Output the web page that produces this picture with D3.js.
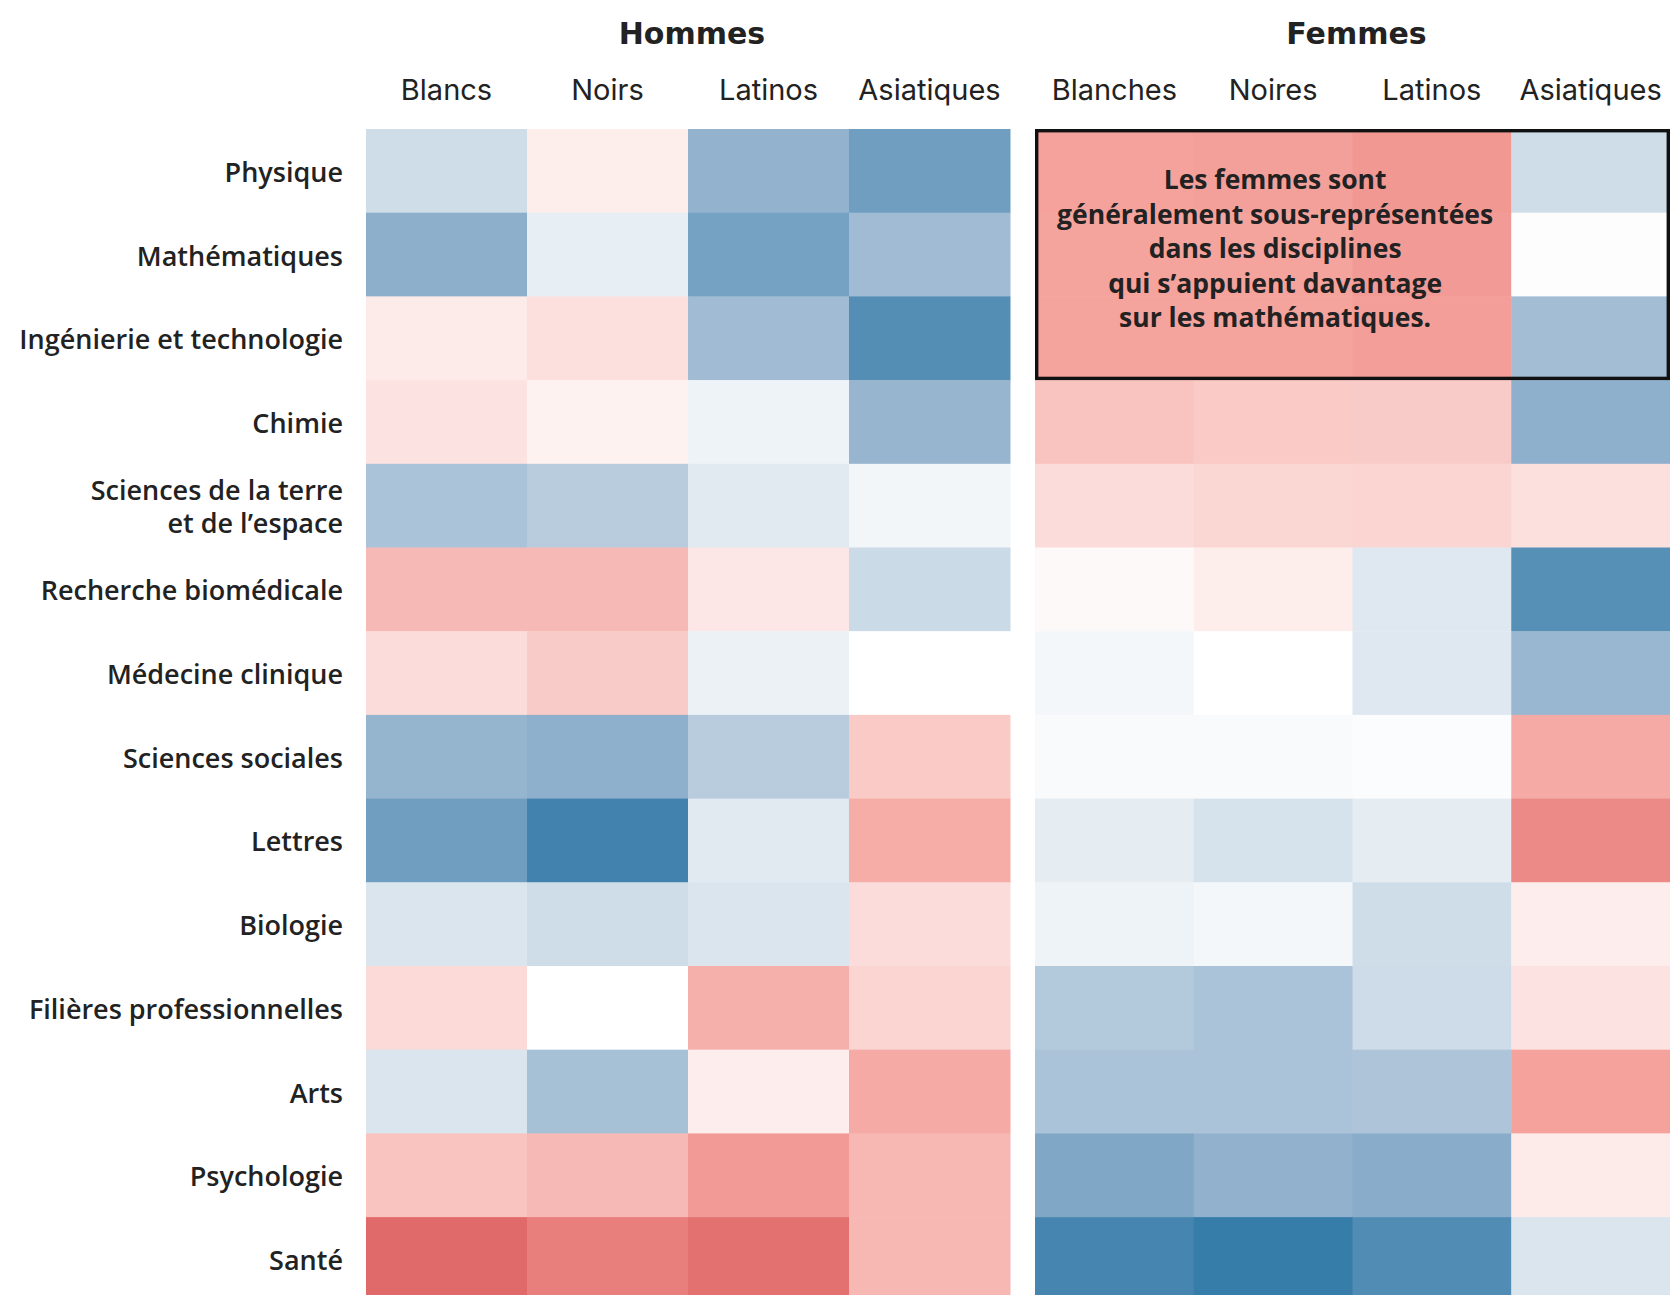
<!DOCTYPE html>
<html>
<head>
<meta charset="utf-8">
<script src="https://cdn.jsdelivr.net/npm/d3@7"></script>
<style>
  body { margin: 0; background: #fff; }
  svg { display: block; }
  .row-label { font-family: "Open Sans", sans-serif; font-weight: 600; font-size: 27px; fill: #222; }
  .col-label { font-family: Inter, sans-serif; font-weight: 400; font-size: 29px; fill: #222; }
  .group-title { font-family: "DejaVu Sans", sans-serif; font-weight: 700; font-size: 30px; fill: #222; }
  .note { font-family: "Open Sans", sans-serif; font-weight: 700; font-size: 26.5px; fill: #222; }
</style>
</head>
<body>
<svg width="1670" height="1295"></svg>
<script>
var disciplines = [
  ["Physique"],
  ["Mathématiques"],
  ["Ingénierie et technologie"],
  ["Chimie"],
  ["Sciences de la terre", "et de l’espace"],
  ["Recherche biomédicale"],
  ["Médecine clinique"],
  ["Sciences sociales"],
  ["Lettres"],
  ["Biologie"],
  ["Filières professionnelles"],
  ["Arts"],
  ["Psychologie"],
  ["Santé"]
];

var hommesCols = ["Blancs", "Noirs", "Latinos", "Asiatiques"];
var femmesCols = ["Blanches", "Noires", "Latinos", "Asiatiques"];

// écart de représentation : négatif = bleu, positif = rouge
var hommesValues = [
  [-0.22,  0.10, -0.50, -0.69],
  [-0.53, -0.11, -0.66, -0.44],
  [ 0.11,  0.17, -0.44, -0.84],
  [ 0.15,  0.07, -0.08, -0.48],
  [-0.39, -0.33, -0.14, -0.06],
  [ 0.38,  0.38,  0.13, -0.24],
  [ 0.19,  0.28, -0.09,  0.00],
  [-0.49, -0.52, -0.33,  0.29],
  [-0.69, -0.94, -0.14,  0.45],
  [-0.17, -0.22, -0.17,  0.19],
  [ 0.20,  0.00,  0.43,  0.23],
  [-0.17, -0.41,  0.09,  0.46],
  [ 0.32,  0.38,  0.57,  0.39],
  [ 1.00,  0.82,  0.94,  0.39]
];

var femmesValues = [
  [ 0.51,  0.53,  0.60, -0.22],
  [ 0.50,  0.50,  0.57, -0.01],
  [ 0.50,  0.50,  0.54, -0.43],
  [ 0.32,  0.29,  0.28, -0.52],
  [ 0.19,  0.22,  0.23,  0.17],
  [ 0.03,  0.10, -0.15, -0.82],
  [-0.05,  0.00, -0.15, -0.47],
  [-0.03, -0.03, -0.02,  0.46],
  [-0.12, -0.19, -0.12,  0.72],
  [-0.08, -0.05, -0.22,  0.09],
  [-0.35, -0.39, -0.23,  0.16],
  [-0.39, -0.39, -0.38,  0.51],
  [-0.60, -0.51, -0.56,  0.11],
  [-0.92, -1.00, -0.86, -0.17]
];

var noteLines = [
  "Les femmes sont",
  "généralement sous-représentées",
  "dans les disciplines",
  "qui s’appuient davantage",
  "sur les mathématiques."
];

var svg = d3.select("svg");

var color = d3.scaleLinear()
  .domain([-1, -0.5, 0, 0.5, 1])
  .range(["#367daa", "#93b2cd", "#ffffff", "#f5a39d", "#e06a6a"]);

var y = d3.scaleBand()
  .domain(d3.range(disciplines.length))
  .range([129, 129 + 83.7 * disciplines.length]);

var xH = d3.scaleBand().domain(hommesCols.map((d, i) => i)).range([366, 1010]);
var xF = d3.scaleBand().domain(femmesCols.map((d, i) => i)).range([1035, 1670]);

var groups = [
  { title: "Hommes", cols: hommesCols, values: hommesValues, x: xH },
  { title: "Femmes", cols: femmesCols, values: femmesValues, x: xF }
];

groups.forEach(function(gr) {
  const g = svg.append("g");
  const r = gr.x.range();

  // cellules
  gr.values.forEach(function(row, i) {
    g.selectAll(null).data(row).enter()
      .append("rect")
        .attr("x", (d, j) => gr.x(j))
        .attr("y", y(i))
        .attr("width", gr.x.bandwidth() + 0.5)
        .attr("height", y.bandwidth() + 0.5)
        .attr("fill", d => color(d));
  });

  // titres
  g.append("text")
    .attr("class", "group-title")
    .attr("x", (r[0] + r[1]) / 2 + 4)
    .attr("y", 44)
    .attr("text-anchor", "middle")
    .text(gr.title);

  g.selectAll(".col-label").data(gr.cols).enter()
    .append("text")
      .attr("class", "col-label")
      .attr("x", (d, j) => gr.x(j) + gr.x.bandwidth() / 2)
      .attr("y", 100)
      .attr("text-anchor", "middle")
      .text(d => d);
});

// étiquettes des lignes
var labels = svg.append("g").selectAll("text").data(disciplines).enter()
  .append("text")
    .attr("class", "row-label")
    .attr("text-anchor", "end")
    .attr("x", 343);

labels.each(function(lines, i) {
  const c = y(i) + y.bandwidth() / 2;
  const start = c + 11 - (lines.length - 1) * 16.5;
  d3.select(this).selectAll("tspan").data(lines).enter()
    .append("tspan")
      .attr("x", 343)
      .attr("y", (d, k) => start + k * 33)
      .text(d => d);
});

// encadré
var boxTop = y(0), boxBottom = y(2) + y.bandwidth();
svg.append("rect")
  .attr("x", xF(0) + 1.7)
  .attr("y", boxTop + 1.7)
  .attr("width", xF.range()[1] - xF(0) - 3.4)
  .attr("height", boxBottom - boxTop - 3.4)
  .attr("fill", "none")
  .attr("stroke", "#111")
  .attr("stroke-width", 3.4);

var noteX = (xF(0) + xF(2) + xF.bandwidth()) / 2 + 2;
svg.append("text")
  .attr("class", "note")
  .attr("text-anchor", "middle")
  .selectAll("tspan").data(noteLines).enter()
  .append("tspan")
    .attr("x", noteX)
    .attr("y", (d, k) => 189 + k * 34.5)
    .text(d => d);
</script>
</body>
</html>
